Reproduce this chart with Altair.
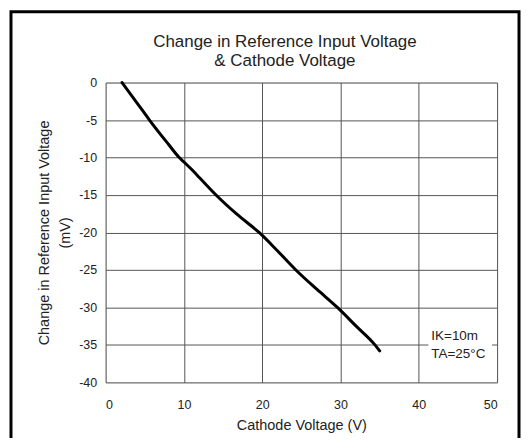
import altair as alt
import pandas as pd

# Curve
cathode_v = [2.1, 4.0, 5.6, 8.0, 9.4, 10.0, 11.0, 12.0, 14.1, 16.8, 19.6, 22.0, 24.3, 27.0, 29.6, 32.0, 34.4, 35.0]
delta_vref = [0.0, -2.7, -5.0, -8.2, -10.0, -10.6, -11.6, -12.7, -15.0, -17.6, -20.0, -22.5, -25.0, -27.6, -30.0, -32.5, -35.0, -35.8]

x_ticks = [0, 10, 20, 30, 40, 50]
y_ticks = [0, -5, -10, -15, -20, -25, -30, -35, -40]

title_lines = ["Change in Reference Input Voltage", "& Cathode Voltage"]
x_title = "Cathode Voltage (V)"
y_title = ["Change in Reference Input Voltage", "(mV)"]
note_lines = ["IK=10m", "TA=25°C"]

df = pd.DataFrame({"v": cathode_v, "d": delta_vref})

FONT = "Liberation Sans"
TXT = "#222222"

x_enc = alt.X("v:Q", scale=alt.Scale(domain=[0, 50], nice=False),
              axis=alt.Axis(values=x_ticks, title=x_title, grid=True, ticks=False, domain=False,
                            labelPadding=16, titlePadding=8, labelFontSize=12.5, titleFontSize=14.5,
                            titleFontWeight="normal", labelColor=TXT, titleColor=TXT,
                            labelExpr="toString(datum.value)",
                            gridColor="#555555", gridWidth=1, labelFont=FONT, titleFont=FONT))
y_enc = alt.Y("d:Q", scale=alt.Scale(domain=[-40, 0], nice=False),
              axis=alt.Axis(values=y_ticks, title=y_title, grid=True, ticks=False, domain=False,
                            labelPadding=9, titlePadding=6, labelFontSize=12.5, titleFontSize=14.5,
                            titleFontWeight="normal", labelColor=TXT, titleColor=TXT,
                            titleLineHeight=21, labelExpr="toString(datum.value)",
                            gridColor="#555555", gridWidth=1, labelFont=FONT, titleFont=FONT))

curve = alt.Chart(df).mark_line(color="black", strokeWidth=3, strokeCap="round",
                                interpolate="monotone").encode(x=x_enc, y=y_enc)

one = pd.DataFrame({"a": [0]})

box = alt.Chart(one).mark_rect(fill="white").encode(
    x=alt.value(324), x2=alt.value(388), y=alt.value(247), y2=alt.value(281))

note = alt.Chart(pd.DataFrame({"t": ["\n".join(note_lines)]})).mark_text(
    align="left", baseline="middle", fontSize=13.5, font=FONT, color=TXT, lineHeight=19,
    lineBreak="\n").encode(x=alt.value(327), y=alt.value(254), text="t:N")

title = alt.Chart(pd.DataFrame({"t": ["\n".join(title_lines)]})).mark_text(
    align="center", baseline="middle", fontSize=17, font=FONT, color=TXT, lineHeight=19,
    lineBreak="\n").encode(x=alt.value(180), y=alt.value(-41), text="t:N")

frame = alt.Chart(one).mark_rect(
    filled=False, stroke="black", strokeWidth=3).encode(
    x=alt.value(-95), x2=alt.value(415), y=alt.value(-71), y2=alt.value(420))

chart = alt.layer(curve, box, note, title, frame).properties(
    width=393, height=301,
    padding={"left": 98, "top": 74, "right": 24, "bottom": 55},
    autosize=alt.AutoSizeParams(type="none"),
).configure_view(stroke="black", strokeWidth=1.5).configure(background="white")

chart.save("out.html", embed_options={"renderer": "svg", "actions": False})
